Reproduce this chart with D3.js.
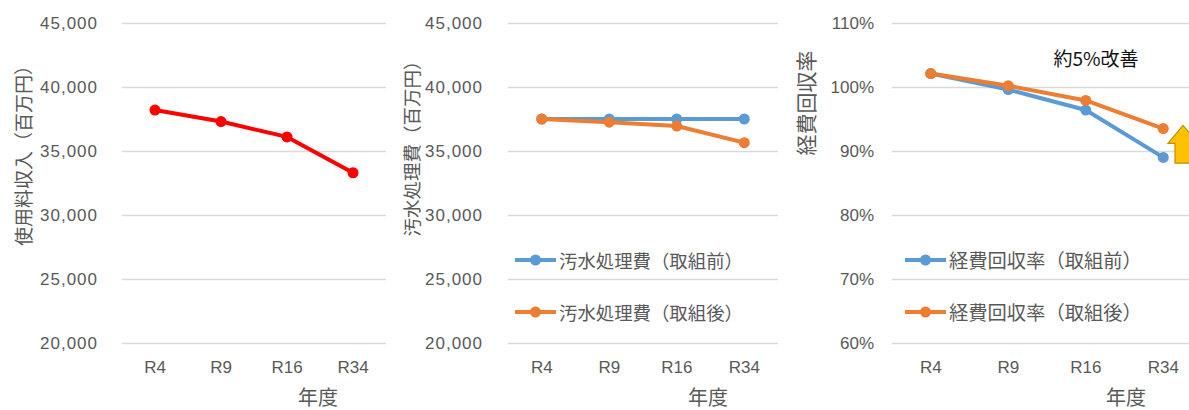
<!DOCTYPE html>
<html lang="ja">
<head>
  <meta charset="UTF-8" />
  <title>使用料収入・汚水処理費・経費回収率</title>
  <script src="https://cdn.jsdelivr.net/npm/d3@7/dist/d3.min.js"></script>
  <style>
    body { margin: 0; background: #fff; }
    svg { display: block; }
    .tick-label { font-family: "Liberation Sans", Arial, sans-serif; font-size: 17px; fill: #595959; }
    .jp { font-family: "Noto Sans CJK JP", sans-serif; fill: #595959; }
  </style>
</head>
<body>
  <svg width="1189" height="410"></svg>

  <script>
    // カテゴリ（年度）
    const years = ['R4', 'R9', 'R16', 'R34'];

    // 使用料収入（百万円）
    const revenue = [38200, 37300, 36100, 33300];

    // 汚水処理費（百万円）
    const costBefore = [37500, 37500, 37500, 37500];
    const costAfter = [37500, 37250, 36950, 35650];

    // 経費回収率（%）
    const rateBefore = [102.1, 99.6, 96.4, 89.0];
    const rateAfter = [102.1, 100.2, 97.9, 93.5];

    // 目盛
    const moneyTicks = [20000, 25000, 30000, 35000, 40000, 45000];
    const rateTicks = [60, 70, 80, 90, 100, 110];

    const svg = d3.select('svg');
    const fmtMoney = d3.format(',');
    const fmtRate = (d) => d + '%';

    function drawPanel(p) {
      const x = d3.scaleBand().domain(years).range([p.x0, p.x1]);
      const y = d3.scaleLinear().domain(p.domain).range([343, 23]);
      const g = svg.append('g');

      // グリッド線
      g.selectAll('line.grid')
        .data(p.ticks)
        .enter()
        .append('line')
        .attr('x1', p.x0)
        .attr('x2', p.x1)
        .attr('y1', (d) => y(d) + 0.5)
        .attr('y2', (d) => y(d) + 0.5)
        .attr('stroke', '#d9d9d9')
        .attr('stroke-width', 1.3);

      // Y目盛ラベル
      g.selectAll('text.ytick')
        .data(p.ticks)
        .enter()
        .append('text')
        .attr('class', 'tick-label')
        .attr('x', p.labelX)
        .attr('y', (d) => y(d) + 6)
        .attr('text-anchor', 'end')
        .style('letter-spacing', p.spacing || '0px')
        .text(p.fmt);

      // X目盛ラベル
      g.selectAll('text.xtick')
        .data(years)
        .enter()
        .append('text')
        .attr('class', 'tick-label')
        .attr('x', (d) => x(d) + x.bandwidth() / 2)
        .attr('y', 373)
        .attr('text-anchor', 'middle')
        .text((d) => d);

      // 軸タイトル
      g.append('text')
        .attr('class', 'jp')
        .attr('transform', `translate(${p.titleX},${p.titleY}) rotate(-90)`)
        .attr('text-anchor', 'middle')
        .attr('dominant-baseline', 'central')
        .style('font-size', p.titleSize + 'px')
        .text(p.title);

      g.append('text')
        .attr('class', 'jp')
        .attr('x', p.yearX)
        .attr('y', 405)
        .attr('text-anchor', 'middle')
        .style('font-size', '20px')
        .text('年度');

      const line = d3
        .line()
        .x((d, i) => x(years[i]) + x.bandwidth() / 2)
        .y((d) => y(d));

      p.series.forEach((s) => {
        g.append('path')
          .datum(s.values)
          .attr('d', line)
          .attr('fill', 'none')
          .attr('stroke', s.color)
          .attr('stroke-width', 4)
          .attr('stroke-linejoin', 'round');
        g.selectAll(null)
          .data(s.values)
          .enter()
          .append('circle')
          .attr('cx', (d, i) => x(years[i]) + x.bandwidth() / 2)
          .attr('cy', (d) => y(d))
          .attr('r', 5.5)
          .attr('fill', s.color);
      });

      // 凡例
      if (p.legend) {
        p.series.forEach((s, i) => {
          const ly = 260 + i * 52;
          const lx = p.legend.x;
          g.append('line')
            .attr('x1', lx)
            .attr('x2', lx + 41)
            .attr('y1', ly)
            .attr('y2', ly)
            .attr('stroke', s.color)
            .attr('stroke-width', 4);
          g.append('circle').attr('cx', lx + 20.5).attr('cy', ly).attr('r', 5.5).attr('fill', s.color);
          g.append('text')
            .attr('class', 'jp')
            .attr('x', lx + 44)
            .attr('y', ly)
            .attr('dominant-baseline', 'central')
            .style('font-size', p.legend.size + 'px')
            .text(s.name);
        });
      }
      return { x, y, g };
    }

    drawPanel({
      x0: 122, x1: 386, domain: [20000, 45000], ticks: moneyTicks, fmt: fmtMoney,
      labelX: 98, spacing: '1px',
      title: '使用料収入（百万円）', titleX: 22, titleY: 151, titleSize: 19, yearX: 318,
      series: [{ name: '使用料収入', values: revenue, color: '#ff0000' }],
    });

    drawPanel({
      x0: 508, x1: 778, domain: [20000, 45000], ticks: moneyTicks, fmt: fmtMoney,
      labelX: 483, spacing: '1px',
      title: '汚水処理費（百万円）', titleX: 411, titleY: 144, titleSize: 18.5, yearX: 708,
      series: [
        { name: '汚水処理費（取組前）', values: costBefore, color: '#5b9bd5' },
        { name: '汚水処理費（取組後）', values: costAfter, color: '#ed7d31' },
      ],
      legend: { x: 515, size: 18.4 },
    });

    const p3 = drawPanel({
      x0: 892, x1: 1202, domain: [60, 110], ticks: rateTicks, fmt: fmtRate,
      labelX: 874,
      title: '経費回収率', titleX: 805, titleY: 103, titleSize: 21, yearX: 1126,
      series: [
        { name: '経費回収率（取組前）', values: rateBefore, color: '#5b9bd5' },
        { name: '経費回収率（取組後）', values: rateAfter, color: '#ed7d31' },
      ],
      legend: { x: 905, size: 19.3 },
    });

    // 改善を示す矢印と注記
    const ax = 1183;
    const tipY = p3.y(94.0);
    const baseY = p3.y(88.1);
    const headY = tipY + 18;
    p3.g.append('path')
      .attr('d', `M${ax},${tipY} L${ax + 15},${headY} L${ax + 8},${headY} L${ax + 8},${baseY}
        L${ax - 8},${baseY} L${ax - 8},${headY} L${ax - 15},${headY} Z`)
      .attr('fill', '#ffc000')
      .attr('stroke', '#bf9000')
      .attr('stroke-width', 1.2);

    p3.g.append('text')
      .attr('x', 1096)
      .attr('y', 57)
      .attr('text-anchor', 'middle')
      .attr('dominant-baseline', 'central')
      .style('font-family', '"Noto Sans CJK JP", sans-serif')
      .style('font-size', '19px')
      .style('fill', '#111')
      .text('約5%改善');
  </script>
</body>
</html>
